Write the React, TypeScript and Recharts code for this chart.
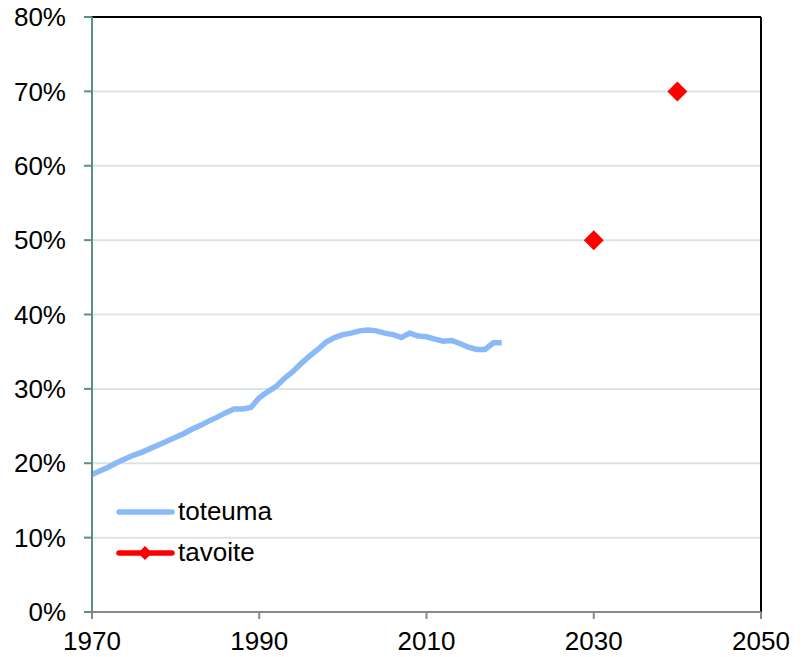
import React from "react";
import {
  ComposedChart,
  Line,
  Scatter,
  XAxis,
  YAxis,
  CartesianGrid,
  ReferenceLine,
} from "recharts";

const years: number[] = [
  1970, 1971, 1972, 1973, 1974, 1975, 1976, 1977, 1978, 1979,
  1980, 1981, 1982, 1983, 1984, 1985, 1986, 1987, 1988, 1989,
  1990, 1991, 1992, 1993, 1994, 1995, 1996, 1997, 1998, 1999,
  2000, 2001, 2002, 2003, 2004, 2005, 2006, 2007, 2008, 2009,
  2010, 2011, 2012, 2013, 2014, 2015, 2016, 2017, 2018, 2019,
];

const toteuma: number[] = [
  18.5, 19.0, 19.5, 20.1, 20.6, 21.1, 21.5, 22.0, 22.5, 23.0,
  23.5, 24.0, 24.6, 25.1, 25.7, 26.2, 26.8, 27.3, 27.3, 27.5,
  28.8, 29.6, 30.3, 31.4, 32.3, 33.4, 34.4, 35.3, 36.3, 36.9,
  37.3, 37.5, 37.8, 37.9, 37.8, 37.5, 37.3, 36.9, 37.5, 37.1,
  37.0, 36.7, 36.4, 36.5, 36.1, 35.6, 35.3, 35.3, 36.2, 36.2,
];

const tavoiteYears: number[] = [2030, 2040];
const tavoite: number[] = [50, 70];

const seriesNames: string[] = ["toteuma", "tavoite"];
const xTicks: number[] = [1970, 1990, 2010, 2030, 2050];
const yTicks: number[] = [0, 10, 20, 30, 40, 50, 60, 70, 80];

const toteumaData = years.map((year, i) => ({ year, value: toteuma[i] }));
const tavoiteData = tavoiteYears.map((year, i) => ({ year, value: tavoite[i] }));

const FONT = "'Liberation Sans', Arial, sans-serif";
const BLUE = "#8ab9f7";
const RED = "#ff0000";

const Diamond = (props: any) => {
  const { cx, cy } = props;
  if (cx == null || cy == null) return null;
  const r = 10;
  return (
    <polygon
      points={`${cx},${cy - r} ${cx + r},${cy} ${cx},${cy + r} ${cx - r},${cy}`}
      fill={RED}
    />
  );
};

const LegendOverlay = () => (
  <div
    style={{
      position: "absolute",
      left: 116,
      top: 491,
      fontFamily: FONT,
      fontSize: 26,
      color: "#000",
      pointerEvents: "none",
    }}
  >
    <div style={{ display: "flex", alignItems: "center", height: 41 }}>
      <svg width={62} height={20}>
        <line x1={3} y1={10} x2={56} y2={10} stroke={BLUE} strokeWidth={5.5} strokeLinecap="round" />
      </svg>
      <span>{seriesNames[0]}</span>
    </div>
    <div style={{ display: "flex", alignItems: "center", height: 41 }}>
      <svg width={62} height={20}>
        <line x1={3} y1={10} x2={56} y2={10} stroke={RED} strokeWidth={5.5} strokeLinecap="round" />
        <polygon points="29,3 36,10 29,17 22,10" fill={RED} />
      </svg>
      <span>{seriesNames[1]}</span>
    </div>
  </div>
);

export default function App() {
  return (
    <div style={{ position: "absolute", left: 0, top: 0, width: 803, height: 657, background: "#fff" }}>
      <ComposedChart
        width={803}
        height={657}
        margin={{ top: 17, right: 42, bottom: 0, left: 0 }}
      >
        <CartesianGrid horizontal={true} vertical={false} stroke="#dbe6e2" strokeWidth={2} />
        <XAxis
          type="number"
          dataKey="year"
          domain={[1970, 2050]}
          ticks={xTicks}
          allowDataOverflow
          height={45}
          tickSize={7}
          tickMargin={13}
          stroke="#888888"
          strokeWidth={2}
          tick={{ fill: "#000", fontSize: 26, fontFamily: FONT }}
          tickLine={{ stroke: "#888888", strokeWidth: 2 }}
        />
        <YAxis
          type="number"
          domain={[0, 80]}
          ticks={yTicks}
          allowDataOverflow
          width={92}
          tickSize={8}
          tickMargin={18}
          stroke="#5b8f80"
          strokeWidth={2}
          tickFormatter={(v: number) => `${v}%`}
          tick={{ fill: "#000", fontSize: 26, fontFamily: FONT }}
          tickLine={{ stroke: "#5b8f80", strokeWidth: 2 }}
        />
        <ReferenceLine y={80} stroke="#000" strokeWidth={2} />
        <ReferenceLine x={2050} stroke="#000" strokeWidth={2} />
        <Line
          data={toteumaData}
          dataKey="value"
          type="linear"
          stroke={BLUE}
          strokeWidth={5.5}
          dot={false}
          activeDot={false}
          isAnimationActive={false}
          name={seriesNames[0]}
        />
        <Scatter
          data={tavoiteData}
          dataKey="value"
          fill={RED}
          shape={<Diamond />}
          isAnimationActive={false}
          name={seriesNames[1]}
        />
      </ComposedChart>
      <LegendOverlay />
    </div>
  );
}
